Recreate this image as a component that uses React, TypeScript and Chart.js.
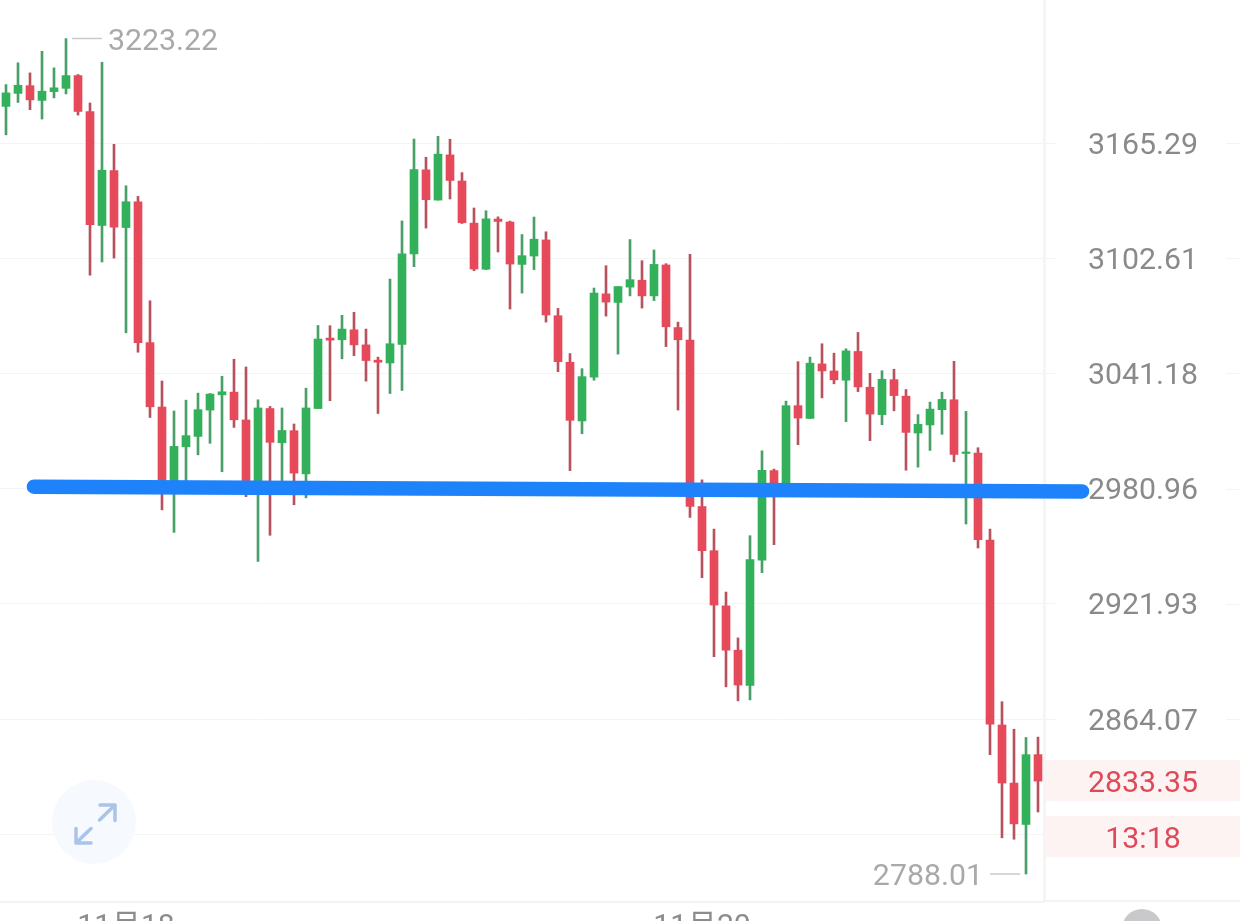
import React, { useEffect, useRef } from "react";
import { Chart, registerables } from "chart.js";

Chart.register(...registerables);

// One candle per entry; the period is a fixed step, only two of them carry a date label.
const dateLabels: Record<number, string> = { 10: "11月18", 58: "11月20" };
const categories = Array.from({ length: 87 }, (_, i) => dateLabels[i] ?? "");

const opens = [
  3185.5, 3192.7, 3197.0, 3188.8, 3193.7, 3195.5, 3202.6, 3182.6, 3120.3, 3150.2,
  3119.2, 3133.2, 3057.5, 3023.5, 2985.0, 3002.7, 3008.1, 3021.9, 3029.9, 3031.3,
  3016.7, 2984.4, 3022.7, 3004.8, 3011.1, 2988.6, 3022.7, 3059.9, 3059.0, 3064.3,
  3056.3, 3048.2, 3046.7, 3056.5, 3104.9, 3150.6, 3134.1, 3158.8, 3144.5, 3121.6,
  3096.7, 3123.8, 3122.2, 3099.3, 3103.8, 3112.5, 3071.8, 3047.1, 3016.2, 3039.2,
  3083.5, 3078.9, 3087.1, 3090.8, 3082.4, 3099.0, 3065.5, 3058.8, 2971.7, 2949.0,
  2920.9, 2898.5, 2880.8, 2944.1, 2990.3, 2983.4, 3024.2, 3017.5, 3046.2, 3042.5,
  3037.6, 3052.8, 3033.9, 3019.5, 3037.9, 3029.2, 3009.9, 3014.1, 3022.1, 3027.3,
  2999.2, 2999.4, 2954.5, 2861.1, 2832.4, 2812.1, 2846.4,
];
const closes = [
  3193.0, 3197.2, 3189.1, 3193.9, 3195.8, 3202.6, 3182.7, 3120.7, 3150.4, 3119.4,
  3133.2, 3057.5, 3023.6, 2984.4, 3002.9, 3008.5, 3022.1, 3030.3, 3031.5, 3016.8,
  2984.4, 3023.0, 3005.0, 3011.2, 2989.0, 3023.0, 3059.4, 3058.8, 3064.7, 3056.3,
  3048.0, 3047.1, 3056.9, 3105.0, 3150.8, 3134.3, 3159.2, 3144.8, 3121.8, 3096.8,
  3123.9, 3122.5, 3099.5, 3104.0, 3112.9, 3072.2, 3047.4, 3016.5, 3039.5, 3083.9,
  3079.1, 3087.4, 3091.1, 3082.4, 3099.3, 3065.9, 3059.0, 2971.7, 2949.0, 2921.3,
  2898.5, 2881.0, 2944.4, 2990.5, 2983.4, 3024.2, 3017.7, 3046.6, 3042.5, 3037.8,
  3053.1, 3034.1, 3019.8, 3038.1, 3029.5, 3010.2, 3014.4, 3022.4, 3027.5, 2998.7,
  3000.0, 2954.7, 2861.5, 2832.4, 2812.4, 2846.4, 2833.35,
];
const highs = [
  3197.6, 3209.7, 3204.1, 3216.1, 3206.9, 3223.22, 3203.2, 3187.4, 3210.0, 3164.6,
  3141.9, 3136.1, 3079.8, 3037.2, 3021.4, 3027.1, 3030.8, 3030.6, 3039.7, 3048.7,
  3044.6, 3027.3, 3023.8, 3023.0, 3014.6, 3033.4, 3066.6, 3066.5, 3072.0, 3073.6,
  3064.7, 3049.8, 3091.4, 3122.8, 3167.5, 3157.5, 3169.0, 3167.4, 3149.1, 3129.8,
  3128.3, 3125.0, 3122.7, 3115.4, 3124.9, 3116.9, 3075.7, 3051.7, 3043.7, 3086.6,
  3098.6, 3087.4, 3112.7, 3101.3, 3107.1, 3099.7, 3068.4, 3104.7, 2985.5, 2960.1,
  2927.9, 2904.7, 2956.7, 3000.6, 2991.1, 3026.6, 3047.4, 3049.8, 3056.9, 3051.9,
  3054.2, 3062.9, 3041.2, 3042.6, 3043.4, 3032.7, 3019.5, 3026.1, 3031.3, 3047.6,
  3021.2, 3002.2, 2960.1, 2872.7, 2859.0, 2854.9, 2855.1,
];
const lows = [
  3169.8, 3187.7, 3183.7, 3178.5, 3190.2, 3192.4, 3180.7, 3093.5, 3100.6, 3102.7,
  3062.7, 3052.4, 3018.0, 2970.0, 2958.4, 2983.4, 2998.5, 3004.5, 2989.7, 3012.8,
  2976.8, 2943.5, 2956.9, 2984.4, 2972.6, 2976.2, 3022.7, 3026.8, 3048.9, 3050.6,
  3037.1, 3020.1, 3030.6, 3032.2, 3098.1, 3118.9, 3134.1, 3134.7, 3121.4, 3095.9,
  3096.5, 3106.0, 3075.4, 3083.9, 3096.5, 3068.4, 3042.1, 2990.3, 3009.5, 3037.6,
  3071.6, 3051.4, 3082.4, 3075.9, 3079.9, 3055.4, 3021.9, 2966.1, 2935.2, 2895.2,
  2880.1, 2873.1, 2873.6, 2937.8, 2952.1, 2983.4, 3003.8, 3017.5, 3028.3, 3035.7,
  3015.8, 3031.6, 3005.9, 3014.2, 3021.5, 2990.5, 2992.1, 3000.8, 3009.2, 2994.9,
  2962.7, 2950.4, 2846.4, 2805.6, 2804.9, 2788.01, 2818.2,
];

const priceTicks = [3165.29, 3102.61, 3041.18, 2980.96, 2921.93, 2864.07, 2807.34];
const hiddenPriceTick = 2807.34;
const priceMin = 2774.5;
const priceMax = 3244.9;

// Hand-drawn support line: [candle index, price] at both ends.
const trendIndex = [2.33, 89.67];
const trendPrice = [2981.95, 2979.5];

const countdownText = "13:18";

const RED = "#e64a5a";
const RED_WICK = "#b8525f";
const GREEN = "#33b15a";
const GREEN_WICK = "#4a9e67";
const FONT = 'Roboto, "Noto Sans CJK SC", sans-serif';

const isUp = (i: number) => closes[i] >= opens[i];

const decorations = {
  id: "decorations",
  beforeDraw(chart: any) {
    // Nudge the axis labels so the digits sit centred on their grid lines.
    chart.scales.y.getLabelItems().forEach((item: any) => {
      if (!item.options.nudged) {
        item.options.translation[1] += 3;
        item.options.nudged = true;
      }
    });
  },
  afterDraw(chart: any) {
    const { ctx, scales } = chart;
    const x = scales.x;
    const y = scales.y;
    const W = chart.width;
    ctx.save();

    // right pane frame and bottom rule
    ctx.strokeStyle = "#f3f4f5";
    ctx.lineWidth = 1;
    priceTicks.forEach((p) => {
      if (p === hiddenPriceTick) return;
      const py = Math.round(y.getPixelForValue(p)) + 0.5;
      ctx.beginPath();
      ctx.moveTo(1226, py);
      ctx.lineTo(W, py);
      ctx.stroke();
    });
    ctx.lineWidth = 2;
    ctx.beginPath();
    ctx.moveTo(x.right, 901);
    ctx.lineTo(W, 901);
    ctx.stroke();

    // last price and countdown tags
    const last = closes[closes.length - 1];
    const ly = y.getPixelForValue(last);
    ctx.fillStyle = "#fdf3f3";
    ctx.fillRect(1045, ly - 21, W - 1045, 41);
    ctx.fillRect(1045, ly + 35, W - 1045, 41);
    ctx.fillStyle = "#df4a5a";
    ctx.font = `30.3px ${FONT}`;
    ctx.textAlign = "center";
    ctx.textBaseline = "middle";
    ctx.fillText(last.toFixed(2), 1143, ly + 3.5);
    ctx.fillText(countdownText, 1143, ly + 59);

    // highest and lowest markers
    const hi = Math.max(...highs);
    const lo = Math.min(...lows);
    const hiX = x.getPixelForValue(highs.indexOf(hi));
    const loX = x.getPixelForValue(lows.indexOf(lo));
    const hiY = y.getPixelForValue(hi);
    const loY = y.getPixelForValue(lo);
    ctx.strokeStyle = "#c9c9c9";
    ctx.lineWidth = 1.5;
    ctx.beginPath();
    ctx.moveTo(hiX + 6, hiY);
    ctx.lineTo(hiX + 36, hiY);
    ctx.moveTo(loX - 36, loY);
    ctx.lineTo(loX - 6, loY);
    ctx.stroke();
    ctx.fillStyle = "#a9a9a9";
    ctx.textAlign = "left";
    ctx.fillText(hi.toFixed(2), hiX + 42, hiY + 4);
    ctx.textAlign = "right";
    ctx.fillText(lo.toFixed(2), loX - 43, loY + 3);

    // expand button
    ctx.fillStyle = "#f6f9fe";
    ctx.beginPath();
    ctx.arc(94, 822, 42, 0, Math.PI * 2);
    ctx.fill();
    ctx.strokeStyle = "#a9c3ea";
    ctx.lineWidth = 3.5;
    ctx.lineCap = "round";
    ctx.lineJoin = "round";
    ctx.beginPath();
    ctx.moveTo(99.5, 820);
    ctx.lineTo(115, 805);
    ctx.moveTo(100, 805);
    ctx.lineTo(115, 805);
    ctx.lineTo(115, 820.5);
    ctx.moveTo(91, 828.5);
    ctx.lineTo(76, 843);
    ctx.moveTo(76, 828.5);
    ctx.lineTo(76, 843);
    ctx.lineTo(91, 843);
    ctx.stroke();

    // support line
    ctx.strokeStyle = "#1e83fb";
    ctx.lineWidth = 14.5;
    ctx.lineCap = "round";
    ctx.beginPath();
    ctx.moveTo(x.getPixelForValue(trendIndex[0]), y.getPixelForValue(trendPrice[0]));
    ctx.lineTo(x.getPixelForValue(trendIndex[1]), y.getPixelForValue(trendPrice[1]));
    ctx.stroke();

    // page control at the bottom edge
    ctx.fillStyle = "#c9c9cb";
    ctx.beginPath();
    ctx.arc(1142, 929, 20, 0, Math.PI * 2);
    ctx.fill();
    ctx.restore();
  },
};

export default function App() {
  const ref = useRef<HTMLCanvasElement | null>(null);

  useEffect(() => {
    if (!ref.current) return;
    const chart = new Chart(ref.current, {
      type: "bar",
      data: {
        labels: categories,
        datasets: [
          {
            label: "Body",
            data: opens.map((o, i) => [o, closes[i]]) as any,
            backgroundColor: opens.map((_, i) => (isUp(i) ? GREEN : RED)),
            barThickness: 8,
            grouped: false,
            borderWidth: 0,
          },
          {
            label: "Wick",
            data: lows.map((l, i) => [l, highs[i]]) as any,
            backgroundColor: opens.map((_, i) => (isUp(i) ? GREEN_WICK : RED_WICK)),
            barThickness: 2,
            grouped: false,
            borderWidth: 0,
          },
        ],
      },
      options: {
        responsive: false,
        animation: false,
        layout: { padding: 0 },
        plugins: { legend: { display: false }, tooltip: { enabled: false } },
        scales: {
          x: {
            type: "category",
            offset: true,
            grid: { display: false, drawTicks: false },
            border: { color: "#f3f4f5", width: 2 },
            afterFit: (s: any) => {
              s.height = 19;
              s.paddingLeft = 0;
              s.paddingRight = 0;
            },
            ticks: {
              autoSkip: false,
              maxRotation: 0,
              minRotation: 0,
              padding: 7,
              color: "#8c8c8c",
              font: { family: FONT, size: 30 },
            },
          },
          y: {
            type: "logarithmic",
            position: "right",
            min: priceMin,
            max: priceMax,
            afterFit: (s: any) => {
              s.width = 196;
              s.paddingTop = 0;
              s.paddingBottom = 0;
            },
            afterBuildTicks: (s: any) => {
              s.ticks = priceTicks.map((value) => ({ value }));
            },
            grid: { color: "#f3f4f5", tickLength: 12, tickColor: "#f3f4f5", lineWidth: 1 },
            border: { color: "#f5f5f6", width: 3 },
            ticks: {
              autoSkip: false,
              crossAlign: "near",
              align: "center",
              padding: 32,
              color: "#8a8a8a",
              font: { family: FONT, size: 30.3 },
              callback: (v: any) => (Number(v) === hiddenPriceTick ? "" : Number(v).toFixed(2)),
            },
          },
        },
      },
      plugins: [decorations],
    } as any);
    return () => chart.destroy();
  }, []);

  return (
    <div style={{ position: "absolute", left: 0, top: 0, width: 1240, height: 921, background: "#fff", overflow: "hidden" }}>
      <canvas ref={ref} width={1240} height={921} style={{ display: "block" }} />
    </div>
  );
}
